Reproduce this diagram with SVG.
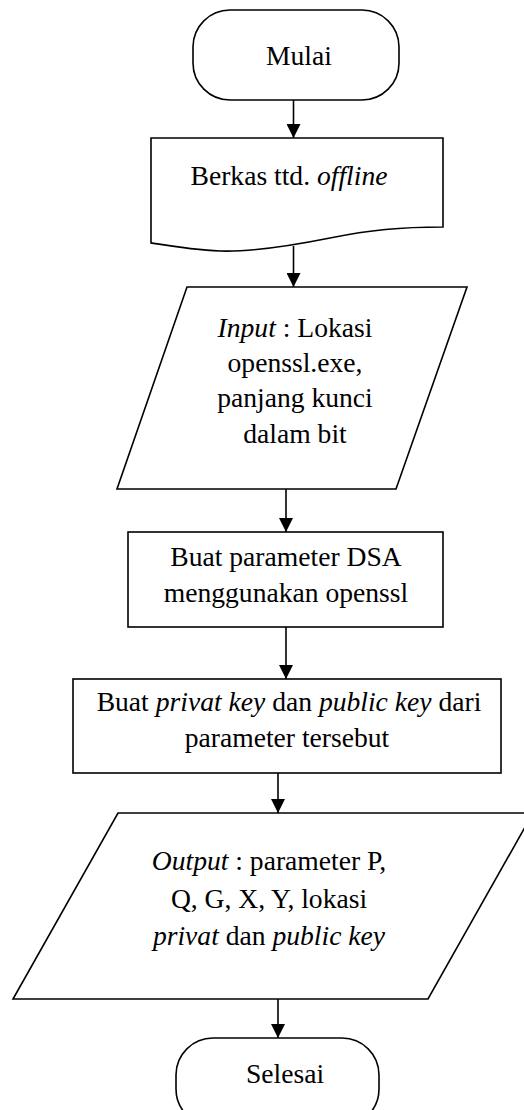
<svg xmlns="http://www.w3.org/2000/svg" width="524" height="1110" viewBox="0 0 524 1110">
  <style>
    .shape { fill: #ffffff; stroke: #000000; stroke-width: 1.6; stroke-linejoin: miter; }
    .label { font-family: "Liberation Serif", "Times New Roman", serif; font-size: 27.6px; fill: #000000; text-anchor: middle; }
    .it { font-style: italic; }
    .edge { fill: none; stroke: #000000; stroke-width: 1.6; }
  </style>
  <defs>
    <marker id="arrow" viewBox="0 0 14 14" refX="14" refY="7" markerUnits="userSpaceOnUse" markerWidth="14" markerHeight="14" orient="auto">
      <path d="M0,0 L14,7 L0,14 Z" fill="#000000"/>
    </marker>
  </defs>
  <rect width="524" height="1110" fill="#ffffff"/>

  <!-- connectors -->
  <g id="connectors">
    <line class="edge" x1="293.5" y1="100" x2="293.5" y2="138" marker-end="url(#arrow)"/>
    <line class="edge" x1="293.5" y1="246" x2="293.5" y2="287" marker-end="url(#arrow)"/>
    <line class="edge" x1="286" y1="489" x2="286" y2="532" marker-end="url(#arrow)"/>
    <line class="edge" x1="286" y1="627" x2="286" y2="679" marker-end="url(#arrow)"/>
    <line class="edge" x1="278" y1="773" x2="278" y2="813" marker-end="url(#arrow)"/>
    <line class="edge" x1="278" y1="999" x2="278" y2="1038" marker-end="url(#arrow)"/>
  </g>

  <!-- start terminator -->
  <g id="start">
    <rect class="shape" x="193" y="10" width="206" height="90" rx="37" ry="37"/>
    <text class="label" x="299" y="65">Mulai</text>
  </g>

  <!-- document: offline signature file -->
  <g id="document">
    <path class="shape" d="M151,138 H443 V227 C400,227 370,230 330,238 C290,246 250,252 220,251 C195,250 170,246 151,243 Z"/>
    <text class="label" x="289" y="185">Berkas ttd. <tspan class="it">offline</tspan></text>
  </g>

  <!-- input -->
  <g id="input">
    <polygon class="shape" points="187,287 467,287 396,489 117,489"/>
    <text class="label" x="295" y="337"><tspan class="it">Input</tspan> : Lokasi</text>
    <text class="label" x="295" y="372">openssl.exe,</text>
    <text class="label" x="295" y="407">panjang kunci</text>
    <text class="label" x="295" y="443">dalam bit</text>
  </g>

  <!-- process: DSA parameters -->
  <g id="make-params">
    <rect class="shape" x="128" y="532" width="315" height="95"/>
    <text class="label" x="286" y="566">Buat parameter DSA</text>
    <text class="label" x="286" y="602">menggunakan openssl</text>
  </g>

  <!-- process: key pair -->
  <g id="make-keys">
    <rect class="shape" x="73" y="679" width="428" height="94"/>
    <text class="label" x="289" y="711">Buat <tspan class="it">privat key</tspan> dan <tspan class="it">public key</tspan> dari</text>
    <text class="label" x="287" y="747">parameter tersebut</text>
  </g>

  <!-- output -->
  <g id="output">
    <polygon class="shape" points="118,813 533,813 428,999 13,999"/>
    <text class="label" x="269" y="870"><tspan class="it">Output</tspan> : parameter P,</text>
    <text class="label" x="269" y="908">Q, G, X, Y, lokasi</text>
    <text class="label" x="269" y="945"><tspan class="it">privat</tspan> dan <tspan class="it">public key</tspan></text>
  </g>

  <!-- end terminator -->
  <g id="end">
    <rect class="shape" x="176" y="1038" width="203" height="88" rx="37" ry="37"/>
    <text class="label" x="285" y="1083">Selesai</text>
  </g>
</svg>
